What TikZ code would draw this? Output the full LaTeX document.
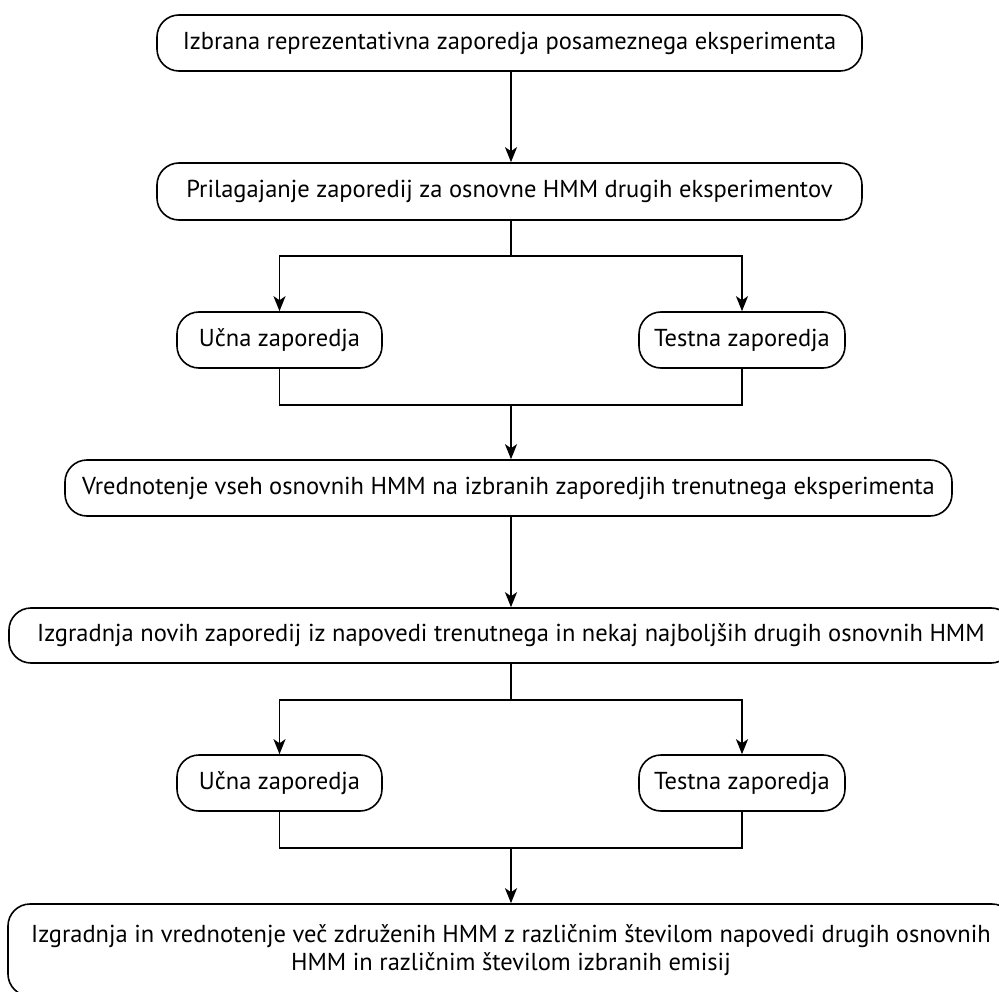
\documentclass[tikz,border=0pt]{standalone}
\usepackage{fontspec}
\setmainfont{PT Sans}
\usetikzlibrary{arrows.meta}

\begin{document}
\begin{tikzpicture}[x=1pt,y=-1pt,
  box/.style={draw, line width=1.6pt, rounded corners=22pt, inner sep=0pt,
    font=\fontsize{24.5}{28}\selectfont, align=center},
  link/.style={line width=1.6pt},
  arr/.style={link, -{Stealth[length=15pt,width=12pt,inset=4pt]}}]
  \clip (0,0) rectangle (999,992);
  \useasboundingbox (0,0) rectangle (999,992);

  % process steps
  \node[box, minimum width=705pt, minimum height=56pt] (sel) at (509.5,43)
    {Izbrana reprezentativna zaporedja posameznega eksperimenta};
  \node[box, minimum width=705pt, minimum height=57pt] (fit) at (509.5,191.5)
    {Prilagajanje zaporedij za osnovne HMM drugih eksperimentov};
  \node[box, minimum width=205pt, minimum height=56pt] (tr1) at (279.5,340)
    {Učna zaporedja};
  \node[box, minimum width=206pt, minimum height=56pt] (te1) at (742,340)
    {Testna zaporedja};
  \node[box, minimum width=887pt, minimum height=56pt] (eval) at (508.5,488)
    {Vrednotenje vseh osnovnih HMM na izbranih zaporedjih trenutnega eksperimenta};
  \node[box, minimum width=1004pt, minimum height=55pt] (build) at (511,635.5)
    {Izgradnja novih zaporedij iz napovedi trenutnega in nekaj najboljših drugih osnovnih HMM};
  \node[box, minimum width=205pt, minimum height=56pt] (tr2) at (279.5,783)
    {Učna zaporedja};
  \node[box, minimum width=206pt, minimum height=56pt] (te2) at (742,783)
    {Testna zaporedja};
  \node[box, minimum width=1006pt, minimum height=92pt] (final) at (511,950)
    {Izgradnja in vrednotenje več združenih HMM z različnim številom napovedi drugih osnovnih\\
     HMM in različnim številom izbranih emisij};

  % junction points of the split/merge connectors
  \coordinate (s1) at (511,256);
  \coordinate (m1) at (511,405);
  \coordinate (s2) at (511,700);
  \coordinate (m2) at (511,848);

  \draw[arr] (sel.south -| s1) -- (fit.north -| s1);
  \draw[link] (fit.south -| s1) -- (s1);
  \draw[arr] (s1) -| (tr1.north);
  \draw[arr] (s1) -| (te1.north);
  \draw[link] (tr1.south) |- (m1);
  \draw[link] (te1.south) |- (m1);
  \draw[arr] (m1) -- (eval.north -| m1);
  \draw[arr] (eval.south -| m1) -- (build.north -| m1);
  \draw[link] (build.south -| s2) -- (s2);
  \draw[arr] (s2) -| (tr2.north);
  \draw[arr] (s2) -| (te2.north);
  \draw[link] (tr2.south) |- (m2);
  \draw[link] (te2.south) |- (m2);
  \draw[arr] (m2) -- (final.north -| m2);
\end{tikzpicture}
\end{document}
